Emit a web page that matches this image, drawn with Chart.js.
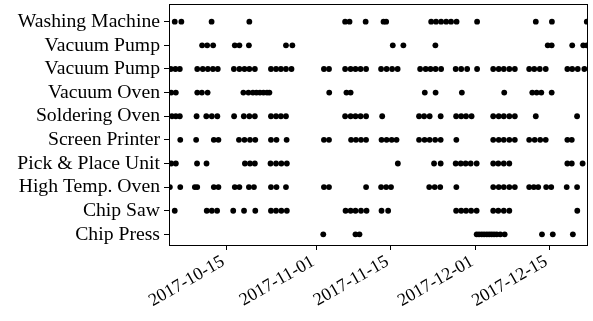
<!DOCTYPE html>
<html>
<head>
<meta charset="utf-8">
<script src="https://cdn.jsdelivr.net/npm/chart.js@4.4.0/dist/chart.umd.min.js"></script>
<style>
  html, body { margin: 0; padding: 0; background: #fff; }
</style>
</head>
<body>
<canvas id="myChart" width="593" height="321"></canvas>
<script>
const YEAR = 2017

// rows, top to bottom
const machines = ['Washing Machine', 'Vacuum Pump', 'Vacuum Pump', 'Vacuum Oven', 'Soldering Oven',
  'Screen Printer', 'Pick & Place Unit', 'High Temp. Oven', 'Chip Saw', 'Chip Press']

// event times per machine, 'MM-DD HH'
const washingMachine = ['10-05 07', '10-06 13', '10-12 06', '10-19 09', '11-06 11', '11-07 07', '11-10 08',
  '11-13 17', '11-14 05', '11-22 17', '11-23 15', '11-24 14', '11-25 13', '11-26 11', '11-27 12', '12-01 09',
  '12-12 11', '12-15 12', '12-22 02']
const vacuumPumpA = ['10-10 11', '10-11 10', '10-12 13', '10-16 15', '10-17 12', '10-19 07', '10-26 07',
  '10-27 12', '11-15 11', '11-17 11', '11-23 12', '12-14 17', '12-15 11', '12-19 08', '12-21 10', '12-22 02']
const vacuumPumpB = ['10-04 13', '10-05 10', '10-06 06', '10-09 13', '10-10 14', '10-11 13', '10-12 12',
  '10-13 10', '10-16 11', '10-17 12', '10-18 11', '10-19 09', '10-20 10', '10-23 11', '10-24 10', '10-25 08',
  '10-26 07', '10-27 08', '11-02 11', '11-03 10', '11-06 11', '11-07 12', '11-08 10', '11-09 09', '11-10 10',
  '11-13 06', '11-14 07', '11-15 08', '11-16 09', '11-20 15', '11-21 16', '11-22 14', '11-23 13', '11-24 14',
  '11-27 08', '11-28 09', '11-29 12', '12-01 09', '12-04 10', '12-05 11', '12-06 10', '12-07 11', '12-08 12',
  '12-11 05', '12-12 04', '12-13 05', '12-14 08', '12-18 10', '12-19 08', '12-20 09', '12-21 15']
const vacuumOven = ['10-04 15', '10-05 12', '10-09 13', '10-10 10', '10-11 12', '10-18 06', '10-19 05',
  '10-20 01', '10-20 17', '10-21 09', '10-22 01', '10-22 17', '10-23 04', '11-03 11', '11-06 17', '11-07 12',
  '11-21 12', '11-23 13', '11-28 12', '12-06 12', '12-11 19', '12-12 15', '12-13 12', '12-15 11']
const solderingOven = ['10-04 18', '10-05 12', '10-06 06', '10-09 10', '10-11 06', '10-12 07', '10-13 08',
  '10-16 12', '10-18 08', '10-19 09', '10-20 10', '10-23 11', '10-24 10', '10-25 08', '10-26 07', '11-06 11',
  '11-07 12', '11-08 10', '11-09 09', '11-10 10', '11-13 11', '11-20 10', '11-21 09', '11-22 10', '11-24 12',
  '11-27 10', '11-28 09', '11-29 07', '11-30 08', '12-04 10', '12-05 11', '12-06 10', '12-07 11', '12-08 12',
  '12-12 11', '12-20 06']
const screenPrinter = ['10-06 08', '10-09 08', '10-12 16', '10-13 13', '10-17 10', '10-18 11', '10-19 12',
  '10-20 12', '10-23 11', '10-24 12', '10-26 10', '11-02 11', '11-03 10', '11-07 14', '11-08 12', '11-09 11',
  '11-10 10', '11-13 08', '11-14 07', '11-15 06', '11-16 04', '11-20 10', '11-21 11', '11-22 10', '11-23 11',
  '11-24 12', '11-27 11', '12-04 10', '12-05 11', '12-06 10', '12-07 11', '12-08 12', '12-11 05', '12-12 06',
  '12-13 07', '12-14 08', '12-18 10', '12-19 06']
const pickAndPlace = ['10-04 15', '10-05 12', '10-09 12', '10-11 07', '10-18 13', '10-19 12', '10-20 10',
  '10-23 09', '10-24 10', '10-25 10', '10-26 11', '11-16 10', '11-23 06', '11-24 12', '11-27 08', '11-28 07',
  '11-29 05', '11-30 04', '12-01 07', '12-04 10', '12-05 09', '12-06 10', '12-07 11', '12-18 10', '12-19 06',
  '12-21 07']
const highTempOven = ['10-04 09', '10-06 08', '10-09 02', '10-09 13', '10-12 16', '10-13 13', '10-16 15',
  '10-17 12', '10-19 07', '10-20 06', '10-23 11', '10-24 12', '10-26 07', '11-02 11', '11-03 10', '11-10 10',
  '11-13 06', '11-14 05', '11-15 03', '11-22 08', '11-23 09', '11-24 10', '11-27 11', '12-04 10', '12-05 11',
  '12-06 10', '12-07 11', '12-08 12', '12-11 05', '12-12 02', '12-12 22', '12-14 10', '12-15 09', '12-18 07',
  '12-20 06']
const chipSaw = ['10-05 07', '10-11 08', '10-12 07', '10-13 07', '10-16 08', '10-18 09', '10-20 12', '10-23 11',
  '10-24 10', '10-25 10', '10-26 11', '11-06 13', '11-07 12', '11-08 10', '11-09 11', '11-10 12', '11-13 08',
  '11-14 14', '11-27 10', '11-28 09', '11-29 07', '11-30 06', '12-01 07', '12-04 10', '12-05 09', '12-06 10',
  '12-07 11', '12-20 07']
const chipPress = ['11-02 08', '11-08 10', '11-09 04', '12-01 07', '12-01 18', '12-02 06', '12-02 17',
  '12-03 05', '12-03 16', '12-04 03', '12-04 14', '12-05 02', '12-05 18', '12-06 14', '12-13 15', '12-15 16',
  '12-19 11']

const tickDates = ['10-15 00', '11-01 00', '11-15 00', '12-01 00', '12-15 00']
const xRange = ['10-04 05', '12-22 03']

const rows = [washingMachine, vacuumPumpA, vacuumPumpB, vacuumOven, solderingOven,
  screenPrinter, pickAndPlace, highTempOven, chipSaw, chipPress]

const toMs = s => {
  const [md, h] = s.split(' ')
  const [m, d] = md.split('-').map(Number)
  return Date.UTC(YEAR, m - 1, d, Number(h))
}

const points = []
rows.forEach((events, i) => {
  events.forEach(s => points.push({x: toMs(s), y: i}))
})

const frame = {
  id: 'frame',
  afterDraw(chart) {
    const {ctx, chartArea: a} = chart
    ctx.save()
    ctx.strokeStyle = '#000'
    ctx.lineWidth = 1
    ctx.strokeRect(Math.round(a.left) + 0.5, Math.round(a.top) + 0.5,
      Math.round(a.right - a.left), Math.round(a.bottom - a.top))
    ctx.restore()
  },
}

Chart.defaults.font.family = "'Liberation Serif', 'Times New Roman', serif"
Chart.defaults.font.size = 19.7
Chart.defaults.color = '#000'

new Chart('myChart', {
  type: 'scatter',
  data: {
    datasets: [{
      data: points,
      backgroundColor: '#000',
      borderColor: '#000',
      borderWidth: 0,
      pointRadius: 2.9,
      clip: 0,
    }],
  },
  options: {
    responsive: false,
    devicePixelRatio: 1,
    animation: false,
    layout: {padding: {top: 3, right: 6, left: 0, bottom: 0}},
    plugins: {legend: {display: false}, tooltip: {enabled: false}},
    scales: {
      x: {
        type: 'linear',
        min: toMs(xRange[0]),
        max: toMs(xRange[1]),
        afterBuildTicks: scale => { scale.ticks = tickDates.map(s => ({value: toMs(s)})) },
        afterFit: scale => {
          scale.height = 76
          scale.paddingLeft = 0
          scale.paddingRight = 0
        },
        grid: {drawOnChartArea: false, tickLength: 5, color: '#000'},
        border: {color: '#000'},
        ticks: {
          autoSkip: false,
          minRotation: 30,
          maxRotation: 30,
          padding: 1,
          labelOffset: -3,
          font: {size: 18},
          callback: v => new Date(v).toISOString().slice(0, 10),
        },
      },
      y: {
        type: 'linear',
        reverse: true,
        min: -0.75,
        max: 9.45,
        afterBuildTicks: scale => { scale.ticks = machines.map((_, i) => ({value: i})) },
        afterFit: scale => {
          scale.width = 169
          scale.paddingTop = 0
          scale.paddingBottom = 0
        },
        grid: {drawOnChartArea: false, tickLength: 5, color: '#000'},
        border: {color: '#000'},
        ticks: {
          autoSkip: false,
          padding: 4,
          callback: v => machines[v],
        },
      },
    },
  },
  plugins: [frame],
})
</script>
</body>
</html>
